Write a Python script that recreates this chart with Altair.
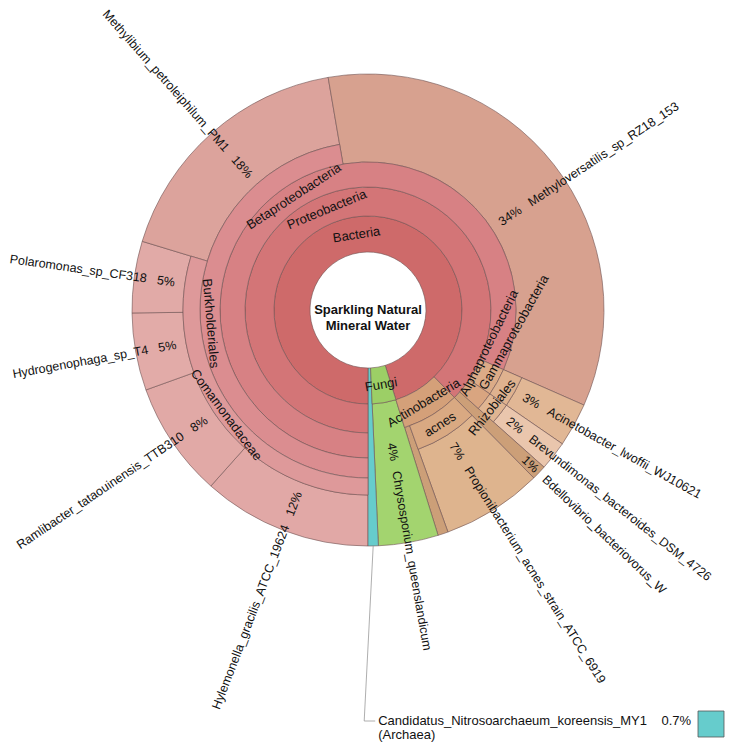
import math
import altair as alt
import pandas as pd

# ---------------- data ----------------
leaf_names = [
    "Hylemonella_gracilis_ATCC_19624",
    "Ramlibacter_tataouinensis_TTB310",
    "Hydrogenophaga_sp_T4",
    "Polaromonas_sp_CF318",
    "Methylibium_petroleiphilum_PM1",
    "Methyloversatilis_sp_RZ18_153",
    "Acinetobacter_lwoffii_WJ10621",
    "Brevundimonas_bacteroides_DSM_4726",
    "Bdellovibrio_bacteriovorus_W",
    "Propionibacterium_acnes_strain_ATCC_6919",
    "",
    "Chrysosporium_queenslandicum",
    "Candidatus_Nitrosoarchaeum_koreensis_MY1",
]
leaf_pct = [11.6, 7.9, 5.3, 4.9, 17.6, 34.3, 3.0, 2.0, 1.0, 6.9, 0.7, 4.1, 0.7]
COM = "Bacteria/Proteobacteria/Betaproteobacteria/Burkholderiales/Comamonadaceae"
leaf_lineage = [
    COM, COM, COM, COM,
    "Bacteria/Proteobacteria/Betaproteobacteria/Burkholderiales",
    "Bacteria/Proteobacteria/Betaproteobacteria",
    "Bacteria/Proteobacteria/Gammaproteobacteria/Pseudomonadales",
    "Bacteria/Proteobacteria/Alphaproteobacteria/Rhizobiales",
    "Bacteria/Proteobacteria",
    "Bacteria/Actinobacteria/acnes",
    "Bacteria/Actinobacteria",
    "Fungi",
    "",
]
leaf_colors = ["#e1a8a6", "#e1a9a6", "#e2aba8", "#e1aaa7", "#dca39c", "#d7a18f",
               "#e1b795", "#eac6ad", "#cc9f78", "#deb48e", "#cc9f78", "#a3d46f", "#66cccc"]
leaf_labelled = [True, True, True, True, True, True, True, True, True, True, False, True, False]

node_colors = {
    "Bacteria": "#ce6a6a",
    "Bacteria/Proteobacteria": "#d37577",
    "Bacteria/Proteobacteria/Betaproteobacteria": "#d78184",
    "Bacteria/Proteobacteria/Betaproteobacteria/Burkholderiales": "#db8d90",
    COM: "#de999a",
    "Bacteria/Proteobacteria/Gammaproteobacteria": "#dcab87",
    "Bacteria/Proteobacteria/Gammaproteobacteria/Pseudomonadales": "#dfb28f",
    "Bacteria/Proteobacteria/Alphaproteobacteria": "#d9a580",
    "Bacteria/Proteobacteria/Alphaproteobacteria/Rhizobiales": "#e0b592",
    "Bacteria/Actinobacteria": "#d4a079",
    "Bacteria/Actinobacteria/acnes": "#d9a982",
    "Fungi": "#9ccf66",
}
center_title = ["Sparkling Natural", "Mineral Water"]

# ---------------- label placement style ----------------
hidden_labels = {"Pseudomonadales"}
start_aligned = {"Gammaproteobacteria", "Alphaproteobacteria"}
label_tilt = {"Alphaproteobacteria": -12}
label_rshift = {"Gammaproteobacteria": 3.5, "Alphaproteobacteria": -7.5}
leaf_nudge_deg = {"Methyloversatilis_sp_RZ18_153": 4.5}

# ---------------- layout / style ----------------
W, H = 717, 735
CX, CY = 360, 302
RING = [58, 94, 123, 148, 168, 185, 236]
R = RING[-1]
FONT = "Liberation Sans"
STROKE = "#6e5252"
NB = "\u00a0" * 3
LEAF_FS = 12.5


def deg(p):
    return (180 + p * 3.6) % 360


arcs, spans = [], {}
leaf_rows = []
cum = 0.0
for name, pct, lin, col, lab in zip(leaf_names, leaf_pct, leaf_lineage, leaf_colors, leaf_labelled):
    s, e = cum, cum + pct
    cum = e
    parts = lin.split("/") if lin else []
    for i in range(len(parts)):
        key = "/".join(parts[: i + 1])
        if key in spans:
            spans[key][1] = e
        else:
            spans[key] = [s, e, i]
    arcs.append(dict(start=s, end=e, r0=RING[len(parts)], r1=R, color=col))
    leaf_rows.append(dict(name=name, pct=pct, start=s, end=e, r0=RING[len(parts)], lab=lab))

int_labels = []
for key, (s, e, i) in spans.items():
    arcs.append(dict(start=s, end=e, r0=RING[i], r1=RING[i + 1], color=node_colors[key]))
    short = key.split("/")[-1]
    if short in hidden_labels:
        continue
    mid = (s + e) / 2
    th = deg(mid)
    rot = (th if (th <= 90 or th >= 270) else th - 180) + label_tilt.get(short, 0)
    lr = (RING[i] + RING[i + 1]) / 2 + label_rshift.get(short, 0)
    if short in start_aligned:
        int_labels.append(dict(text=short, mid=e, lr=lr, rot=rot % 360, align="left"))
    else:
        int_labels.append(dict(text=short, mid=mid, lr=lr, rot=rot % 360, align="center"))

leaf_labels = []
for r in leaf_rows:
    if not r["lab"]:
        continue
    mid = (r["start"] + r["end"]) / 2 + leaf_nudge_deg.get(r["name"], 0) / 3.6
    th = deg(mid)
    ang = math.radians((r["end"] - r["start"]) * 3.6)
    lr = max(r["r0"] + 10, 13.5 / ang, 135)
    ptxt = f"{round(r['pct'])}%" if r["pct"] >= 1 else f"{r['pct']:g}%"
    if th < 180:
        leaf_labels.append(dict(text=ptxt + NB + r["name"], mid=mid, lr=lr,
                                rot=(th - 90) % 360, align="left"))
    else:
        leaf_labels.append(dict(text=r["name"] + NB + ptxt, mid=mid, lr=lr,
                                rot=(th - 270) % 360, align="right"))

arc_df = pd.DataFrame(arcs)
int_df = pd.DataFrame(int_labels)
leaf_df = pd.DataFrame(leaf_labels)

theta_scale = alt.Scale(type="linear", domain=[0, 100], range=[math.pi, 3 * math.pi])
r_scale = alt.Scale(type="linear", domain=[0, R], range=[0, R])

base_arc = alt.Chart(arc_df).mark_arc(stroke=STROKE, strokeWidth=0.6).encode(
    theta=alt.Theta("start:Q", scale=theta_scale, stack=None),
    theta2="end:Q",
    radius=alt.Radius("r1:Q", scale=r_scale),
    radius2="r0:Q",
    color=alt.Color("color:N", scale=None),
    x=alt.value(CX), y=alt.value(CY),
)


def text_layer(df, al, size):
    return alt.Chart(df).mark_text(align=al, baseline="middle", font=FONT, fontSize=size,
                                   color="#111111").encode(
        theta=alt.Theta("mid:Q", scale=theta_scale, stack=None),
        radius=alt.Radius("lr:Q", scale=r_scale),
        angle=alt.Angle("rot:Q", scale=None),
        text="text:N",
        x=alt.value(CX), y=alt.value(CY),
    )


text_layers = []
for df, size in [(int_df, 13), (leaf_df, LEAF_FS)]:
    for al in ["left", "center", "right"]:
        sub = df[df["align"] == al]
        if len(sub):
            text_layers.append(text_layer(sub, al, size))

title = alt.Chart(pd.DataFrame({"t": [0]})).mark_text(
    align="center", baseline="middle", font=FONT, fontSize=13, fontWeight="bold",
    lineHeight=16, color="#111111"
).encode(x=alt.value(CX), y=alt.value(CY), text=alt.value(center_title))

# Archaea annotation (slice too thin to label inside)
arch = leaf_rows[-1]
a_mid = math.radians(180 + (arch["start"] + arch["end"]) / 2 * 3.6)
ax0, ay0 = CX + R * math.sin(a_mid), CY - R * math.cos(a_mid)
ANN_Y = 713
lead_df = pd.DataFrame({
    "x": [ax0, ax0 - 9], "y": [ay0, ANN_Y], "x2": [ax0 - 9, ax0 + 2], "y2": [ANN_Y, ANN_Y]
})
leader = alt.Chart(lead_df).mark_rule(color="#999999", strokeWidth=0.8).encode(
    x=alt.X("x:Q", scale=None), y=alt.Y("y:Q", scale=None),
    x2="x2:Q", y2="y2:Q",
)
ann_df = pd.DataFrame({
    "text": [arch["name"] + "\u00a0" * 4 + f"{arch['pct']:g}%", "(Archaea)"],
    "x": [ax0 + 5, ax0 + 5], "y": [ANN_Y, ANN_Y + 14],
})
ann_text = alt.Chart(ann_df).mark_text(align="left", baseline="middle", font=FONT, fontSize=13,
                                       color="#111111").encode(
    x=alt.X("x:Q", scale=None), y=alt.Y("y:Q", scale=None), text="text:N")
sw_df = pd.DataFrame({"x": [690], "x2": [716], "y": [703], "y2": [729], "color": [leaf_colors[-1]]})
swatch = alt.Chart(sw_df).mark_rect(stroke="#555555", strokeWidth=0.8).encode(
    x=alt.X("x:Q", scale=None), x2="x2:Q", y=alt.Y("y:Q", scale=None), y2="y2:Q",
    color=alt.Color("color:N", scale=None))

chart = alt.layer(base_arc, *text_layers, title, leader, ann_text, swatch).properties(
    width=W, height=H, padding=0, autosize=alt.AutoSizeParams(type="none")
).configure_view(stroke=None)

chart.save("out.html", embed_options={"renderer": "svg", "actions": False})
